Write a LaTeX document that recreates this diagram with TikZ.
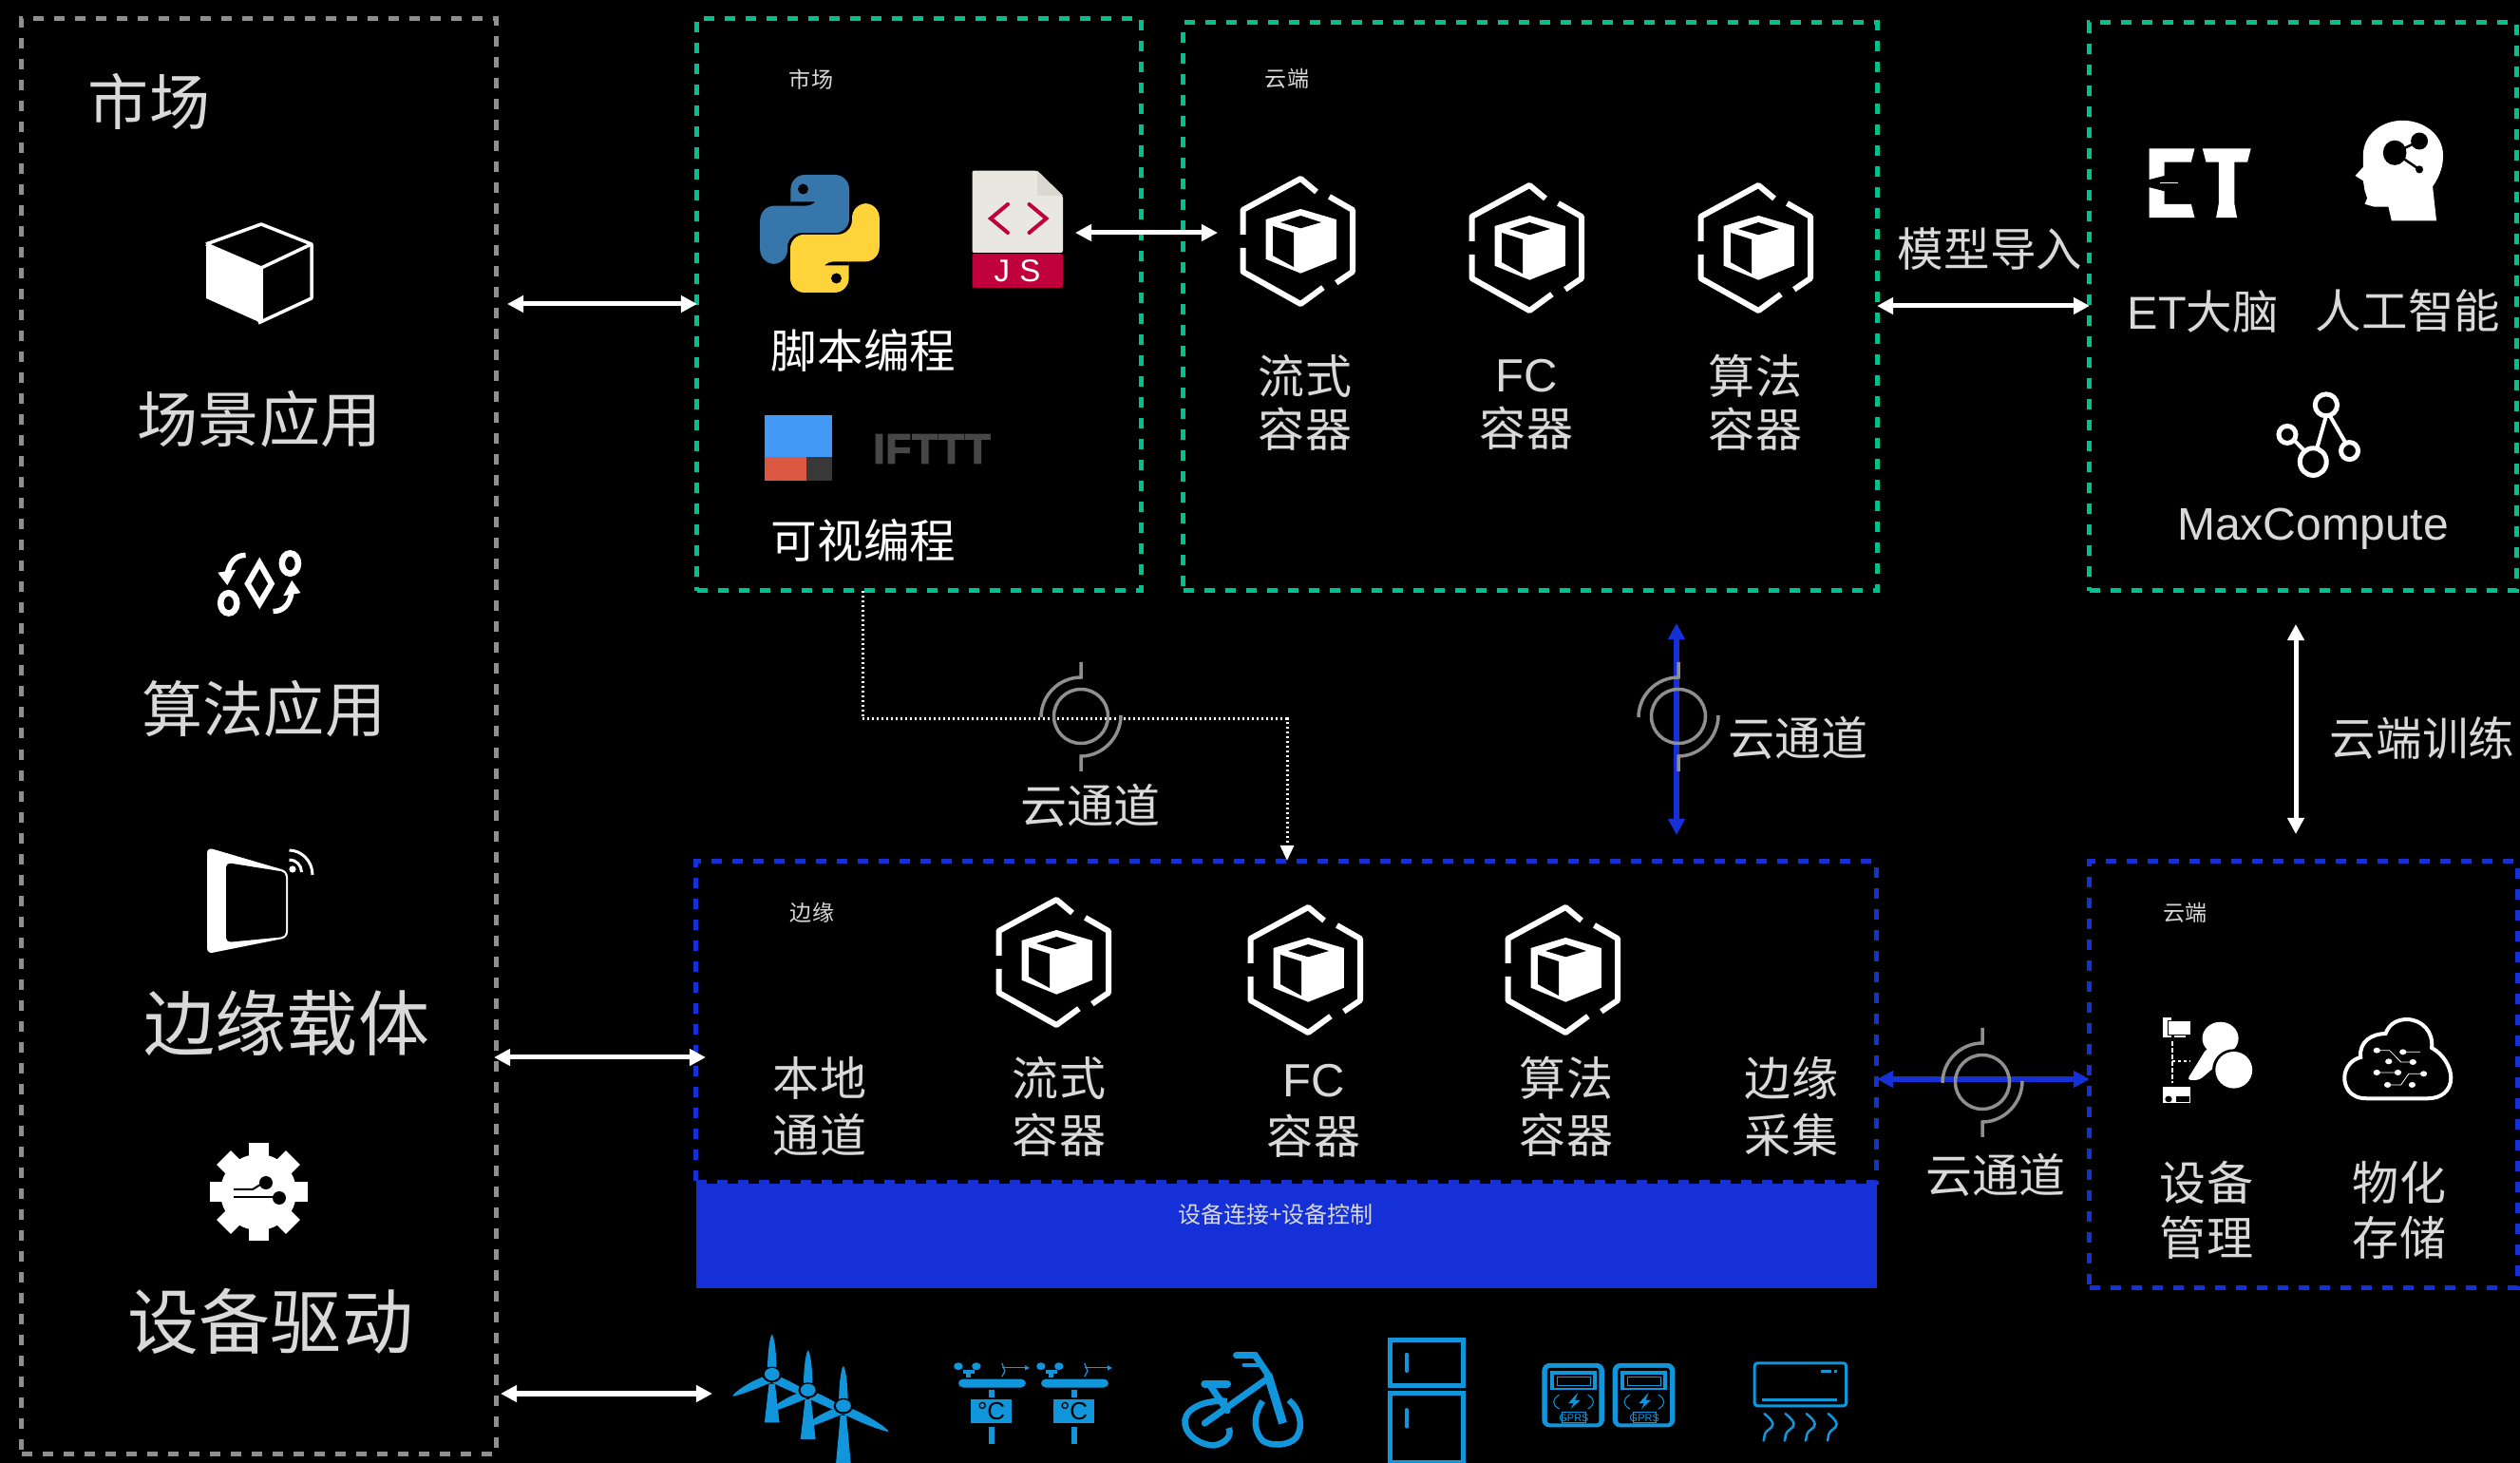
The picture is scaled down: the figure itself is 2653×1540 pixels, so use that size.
\documentclass[tikz,border=0pt]{standalone}
\usepackage{fontspec}
\usetikzlibrary{arrows.meta}
\newfontfamily\cjk{Noto Sans CJK SC}
\newfontfamily\lat{Liberation Sans}
\newfontfamily\heavy[FakeBold=3,LetterSpace=2]{Liberation Sans Bold}
\newcommand{\px}[2][1.22]{\fontsize{\fpeval{#2*0.28453}pt}{\fpeval{#2*#1*0.28453}pt}\selectfont}
\definecolor{boxgray}{HTML}{8F8F8F}
\definecolor{boxgreen}{HTML}{00C08B}
\definecolor{boxblue}{HTML}{1530D6}
\definecolor{txt}{HTML}{D9D9D9}
\definecolor{devblue}{HTML}{1296DB}
\definecolor{pyblue}{HTML}{3776AB}
\definecolor{pyyellow}{HTML}{FFD43B}
\definecolor{jsred}{HTML}{C0003C}
\tikzset{
  dashbox/.style={rectangle,draw,inner sep=0pt,line width=.05cm,dash pattern=on .11cm off .11cm},
  graybox/.style={dashbox,draw=boxgray},
  greenbox/.style={dashbox,draw=boxgreen},
  bluebox/.style={dashbox,draw=boxblue},
  lab/.style={text=txt,inner sep=0pt,align=center,font={\cjk\px{48}}},
  biwhite/.style={white,line width=.05cm,{Triangle[length=.17cm,width=.17cm]}-{Triangle[length=.17cm,width=.17cm]}},
  biblue/.style={boxblue,line width=.055cm,{Triangle[length=.17cm,width=.17cm]}-{Triangle[length=.17cm,width=.17cm]}},
  dotline/.style={white,line width=.03cm,dash pattern=on .02cm off .03cm,-{Triangle[length=.16cm,width=.14cm]}},
  ring/.style={boxgray,line width=.035cm},
  z1/.style={shift={(0,0)},x=.003571cm,y=-.005102cm},
  z2/.style={shift={(0,800)},x=.004847cm,y=-.004719cm},
  z3/.style={shift={(720,0)},x=.003827cm,y=-.004082cm},
  z4/.style={shift={(2180,0)},x=.003333cm,y=-.004082cm},
  z5/.style={shift={(2020,900)},x=.004037cm,y=-.003333cm},
  z6/.style={shift={(740,1370)},x=.007905cm,y=-.003333cm},
}
\newcommand{\hexicon}[2]{%
\begin{scope}[shift={(#1,#2)}]
 \draw[white,line width=.06cm,line join=round] (20,-52) -- (3.3,-66) -- (-57.5,-33) -- (-57.5,-7);
 \draw[white,line width=.06cm,line join=round] (-57.5,7) -- (-57.5,32) -- (3.3,66) -- (26.9,48.7);
 \draw[white,line width=.06cm,line join=round] (33.5,-47) -- (58,-33) -- (58,32) -- (40.8,43.7);
 \fill[white] (3.3,-34) -- (40.8,-23) -- (40.8,18.7) -- (3.3,33.7) -- (-33.5,18.7) -- (-33.5,-23) -- cycle;
 \fill[black] (3.3,-27) -- (25,-20) -- (3.3,-13.7) -- (-18,-20) -- cycle;
 \fill[black] (-26,-16) -- (-4,-9) -- (-4,27) -- (-26,15) -- cycle;
\end{scope}}
\newcommand{\spiral}[2]{%
\begin{scope}[shift={(#1,#2)}]
 \draw[ring] (0,0) circle (28.5);
 \draw[ring] (-42,1) .. controls (-42,-22) and (-23,-41) .. (0,-41) -- (0,-57);
 \draw[ring] (42,-1) .. controls (42,22) and (23,42) .. (0,42) -- (0,58);
\end{scope}}
\newcommand{\turbine}[3]{%
 \fill[devblue] (#1-4,#2+30) -- (#1+4,#2+30) -- (#1+10,#3) -- (#1-10,#3) -- cycle;
 \fill[devblue] (#1-6,#2-10) .. controls (#1-6,#2-80) and (#1-2,#2-125) .. (#1,#2-125) .. controls (#1+2,#2-125) and (#1+6,#2-80) .. (#1+6,#2-10) -- cycle;
 \fill[devblue] (#1-5,#2+3) .. controls (#1-30,#2+20) and (#1-55,#2+65) .. (#1-52,#2+70) .. controls (#1-40,#2+65) and (#1-15,#2+40) .. (#1+3,#2+22) -- cycle;
 \fill[devblue] (#1+5,#2+3) .. controls (#1+30,#2+25) and (#1+62,#2+75) .. (#1+60,#2+82) .. controls (#1+45,#2+75) and (#1+15,#2+45) .. (#1-3,#2+22) -- cycle;
 \fill[black] (#1,#2+1) ellipse [x radius=13,y radius=25];
 \fill[devblue] (#1,#2) ellipse [x radius=10,y radius=20];
}
\begin{document}
\begin{tikzpicture}[x=.01cm,y=-.01cm]
\useasboundingbox (0,0) rectangle (2653,1540);
\fill[black] (0,0) rectangle (2653,1540);
\clip (0,0) rectangle (2653,1540);

% ---- boxes
\node[graybox,minimum width=4.99cm,minimum height=15.11cm] (market) at (272.5,775) {};
\node[greenbox,minimum width=4.67cm,minimum height=6.02cm] (script) at (967.5,320.6) {};
\node[greenbox,minimum width=7.30cm,minimum height=5.98cm] (cloudc) at (1611,322.8) {};
\node[greenbox,minimum width=4.49cm,minimum height=5.98cm] (brain) at (2424.5,322.8) {};
\node[fill=boxblue,inner sep=0pt,minimum width=12.43cm,minimum height=1.10cm] (bus) at (1354.5,1301) {};
\node[bluebox,minimum width=12.42cm,minimum height=3.37cm] (edge) at (1354,1075.5) {};
\node[bluebox,minimum width=4.50cm,minimum height=4.48cm] (cloudm) at (2425,1131) {};

% ---- market texts and icons
\node[lab,font={\cjk\px{64}}] (t1) at (157,107) {市场};
\node[lab,font={\cjk\px{64}}] (t2) at (273,441) {场景应用};
\node[lab,font={\cjk\px{64}}] (t3) at (278,746) {算法应用};
\node[lab,font={\cjk\px{75}}] (t4) at (302,1077) {边缘载体};
\node[lab,font={\cjk\px{75}}] (t5) at (285,1391) {设备驱动};
% cube
\fill[white] (217,257) -- (275,282) -- (275,340) -- (217,314) -- cycle;
\draw[white,line width=.035cm,line join=round] (217,257) -- (275,236) -- (328,257) -- (328,314) -- (272,340);
\draw[white,line width=.035cm] (217,257) -- (275,282) -- (328,257) (275,282) -- (275,340);
% algorithm icon
\begin{scope}[z1]
 \draw[white,line width=.06cm] (765,1162) -- (800,1205) -- (765,1246) -- (730,1205) -- cycle;
 \draw[white,line width=.065cm] (674,1245) ellipse [x radius=24,y radius=21];
 \draw[white,line width=.065cm] (855,1163) ellipse [x radius=24,y radius=21];
 \draw[white,line width=.055cm] (724,1146) .. controls (695,1146) and (675,1160) .. (668,1190);
 \fill[white] (642,1182) -- (695,1176) -- (670,1208) -- cycle;
 \draw[white,line width=.055cm] (805,1262) .. controls (835,1262) and (855,1248) .. (860,1220);
 \fill[white] (886,1224) -- (835,1230) -- (860,1198) -- cycle;
\end{scope}
% tablet
\fill[white,rounded corners=.06cm] (218,892) -- (303,917) -- (303,987) -- (218,1004) -- cycle;
\fill[black,rounded corners=.05cm] (238,908) -- (301,918) -- (301,986) -- (238,992) -- cycle;
\fill[white] (308,915) circle (3.6);
\draw[white,line width=.03cm] (304.5,905) .. controls (311.7,905) and (317.5,910.8) .. (317.5,918);
\draw[white,line width=.03cm] (304.5,895) .. controls (317,895) and (329,906) .. (329,921);
% gear
\begin{scope}[shift={(272,1255)}]
 \fill[white] (0,0) circle (40);
 \foreach \a in {0,45,...,315}{\fill[white,rotate=\a] (-10.5,-51.5) rectangle (10.5,-30);}
 \draw[black,line width=.02cm] (-26,-3) -- (-6,-3) -- (2,-8);
 \draw[black,line width=.02cm] (-26,5) -- (16,5);
 \fill[black] (8,-10) circle (7);
 \fill[black] (22,6) circle (7);
\end{scope}

% ---- scripting box
\node[text=txt,inner sep=0pt,font={\cjk\px{23}}] (t6) at (854,84) {市场};
\node[text=white,inner sep=0pt,font={\cjk\px{48.5}}] (t7) at (909,369) {脚本编程};
\node[text=white,inner sep=0pt,font={\cjk\px{48.5}}] (t8) at (909,569) {可视编程};
% python
\begin{scope}[shift={(863,246)}]
 \fill[pyblue,rounded corners=.15cm] (-30.6,-28) -- (-30.6,-62) -- (31,-62) -- (31,-0.8) -- (-34,-0.8) -- (-34,31.8) -- (-62.8,31.8) -- (-62.8,-29.4) -- (0,-29.4) [sharp corners] -- (0,-33.5) -- (-30.6,-33.5) -- cycle;
 \fill[black] (-17.5,-47) circle (5.5);
 \fill[pyyellow,rounded corners=.15cm] (30.6,28) -- (30.6,62) -- (-31,62) -- (-31,0.8) -- (34,0.8) -- (34,-31.8) -- (62.8,-31.8) -- (62.8,29.4) -- (0,29.4) [sharp corners] -- (0,33.5) -- (30.6,33.5) -- cycle;
 \fill[black] (17.5,47) circle (5.5);
\end{scope}
% js file
\fill[rounded corners=.02cm,fill={rgb,255:red,232;green,232;blue,224}] (1023.5,179.6) -- (1092,179.6) -- (1119,206) -- (1119,266) -- (1023.5,266) -- cycle;
\fill[fill={rgb,255:red,217;green,217;blue,207}] (1092,179.6) -- (1119,206) -- (1092,206) -- cycle;
\fill[jsred,rounded corners=.02cm] (1023.5,267) rectangle (1119,303);
\draw[jsred,line width=.04cm,line cap=round] (1061,215) -- (1043,230) -- (1061,245);
\draw[jsred,line width=.04cm,line cap=round] (1083.5,215) -- (1101.5,230) -- (1083.5,245);
\node[text=white,inner sep=0pt,font={\lat\px{33}}] (js) at (1071,285) {J\hspace{.1cm}S};
% visual icon
\fill[fill={rgb,255:red,66;green,154;blue,246}] (805,437) rectangle (876,481);
\fill[fill={rgb,255:red,220;green,88;blue,65}] (805,481) rectangle (849,506);
\fill[fill={rgb,255:red,56;green,56;blue,56}] (849,481) rectangle (876,506);
\node[text={rgb,255:red,71;green,71;blue,71},inner sep=0pt,font={\heavy\px{44}}] (ifttt) at (981,472.5) {IFTTT};

% ---- cloud containers
\node[text=txt,inner sep=0pt,font={\cjk\px{23}}] (t9) at (1355,83) {云端};
\hexicon{1366}{254}
\hexicon{1607}{261}
\hexicon{1848}{261}
\node[lab,font={\cjk\px[1.15]{49}}] (t10) at (1374,424) {流式\\容器};
\node[lab,font={\cjk\px[1.15]{49}}] (t11) at (1607,426) {{\lat FC}\\容器};
\node[lab,font={\cjk\px[1.15]{49}}] (t12) at (1848,424) {算法\\容器};
\node[lab,font={\cjk\px{48.5}}] (t13) at (2095,262) {模型导入};

% ---- brain box
\begin{scope}[z4]
 \fill[white] (248,382) -- (392,382) -- (381,417) -- (296,417) -- (296,452) -- (248,462) -- cycle;
 \fill[white] (248,482) -- (296,492) -- (296,525) -- (381,525) -- (392,560) -- (248,560) -- cycle;
 \draw[white,line width=.012cm] (282,470) -- (340,470);
 \fill[white] (417,382) -- (570,382) -- (559,417) -- (518,417) -- (518,525) -- (526,560) -- (460,560) -- (468,525) -- (468,417) -- (428,417) -- cycle;
 % head
 \fill[white] (1015,568) -- (1157,568) -- (1145,480) .. controls (1170,450) and (1178,425) .. (1178,400) .. controls (1178,345) and (1115,310) .. (1050,310) .. controls (985,310) and (925,345) .. (925,400) -- (925,430) -- (900,452) -- (925,465) -- (930,490) -- (938,510) -- (930,525) -- (960,532) -- (1005,532) -- cycle;
 \draw[black,line width=.025cm] (1025,393) -- (1103,363) (1025,393) -- (1103,436);
 \fill[black] (1025,393) ellipse [x radius=37,y radius=32];
 \fill[black] (1103,363) ellipse [x radius=27,y radius=22];
 \fill[black] (1103,436) ellipse [x radius=12,y radius=10];
 % network
 \draw[white,line width=.04cm] (808,1070) -- (780,1150) (820,1070) -- (870,1140) (710,1135) -- (740,1160);
 \draw[white,line width=.05cm] (808,1042) ellipse [x radius=35,y radius=28];
 \draw[white,line width=.05cm] (685,1118) ellipse [x radius=27,y radius=22];
 \draw[white,line width=.05cm] (767,1188) ellipse [x radius=42,y radius=35];
 \draw[white,line width=.05cm] (882,1160) ellipse [x radius=27,y radius=22];
\end{scope}
\node[lab,font={\cjk\px{48.5}}] (t14) at (2319.5,328) {{\lat ET}大脑};
\node[lab,font={\cjk\px{48.5}}] (t15) at (2535,327) {人工智能};
\node[text=txt,inner sep=0pt,font={\lat\px{48}}] (t16) at (2435,557) {MaxCompute};
\node[lab,font={\cjk\px{48.5}}] (t17) at (2550,777) {云端训练};

% ---- channels
\coordinate (dota) at (908,622);
\coordinate (dotb) at (908,757);
\coordinate (dotc) at (1355,757);
\coordinate (dotd) at (1355,906);
\draw[dotline] (dota) -- (dotb) -- (dotc) -- (dotd);
\spiral{1138}{754}
\node[lab,font={\cjk\px{49}}] (t18) at (1148,848) {云通道};
\coordinate (vba) at (1765,656);
\coordinate (vbb) at (1765,879);
\draw[biblue] (vba) -- (vbb);
\spiral{1767}{754}
\node[lab,font={\cjk\px{49}}] (t19) at (1893,777) {云通道};
\coordinate (hba) at (1976,1136);
\coordinate (hbb) at (2200,1136);
\draw[biblue] (hba) -- (hbb);
\spiral{2087}{1139}
\node[lab,font={\cjk\px{49}}] (t20) at (2101,1237) {云通道};

% ---- edge box
\node[text=txt,inner sep=0pt,font={\cjk\px{23}}] (t21) at (855,961) {边缘};
\hexicon{1109}{1013}
\hexicon{1374}{1021}
\hexicon{1645}{1021}
\node[lab,font={\cjk\px[1.22]{49}}] (t22) at (863,1165) {本地\\通道};
\node[lab,font={\cjk\px[1.22]{49}}] (t23) at (1115,1165) {流式\\容器};
\node[lab,font={\cjk\px[1.22]{49}}] (t24) at (1383,1169) {{\lat FC}\\容器};
\node[lab,font={\cjk\px[1.22]{49}}] (t25) at (1649,1165) {算法\\容器};
\node[lab,font={\cjk\px[1.22]{49}}] (t26) at (1886,1165) {边缘\\采集};
\node[text=txt,inner sep=0pt,font={\cjk\px{24}}] (t27) at (1343,1278) {设备连接+设备控制};

% ---- cloud management box
\node[text=txt,inner sep=0pt,font={\cjk\px{23}}] (t28) at (2300.6,960.6) {云端};
\begin{scope}[z5]
 \fill[white] (635,513) rectangle (658,577);
 \fill[black] (648,524) rectangle (712,570);
 \fill[white] (650,527) rectangle (708,567);
 \fill[white] (665,572) rectangle (695,577);
 \draw[white,line width=.02cm,dash pattern=on .045cm off .025cm] (659,590) -- (659,722);
 \draw[white,line width=.02cm,dash pattern=on .035cm off .025cm] (659,652) -- (708,652);
 \fill[white] (636,733) rectangle (708,785);
 \fill[black] (650,772) ellipse [x radius=9,y radius=10];
 \fill[black] (670,764) rectangle (704,780);
 \fill[white] (785,580) ellipse [x radius=47,y radius=52];
 \fill[white,rounded corners=.04cm] (750,610) -- (800,640) -- (730,712) -- (698,712) -- cycle;
 \fill[black] (820,680) ellipse [x radius=56,y radius=66];
 \fill[white] (820,680) ellipse [x radius=48,y radius=58];
 % cloud
 \draw[white,line width=.04cm] (1165,770) .. controls (1120,770) and (1108,730) .. (1108,705) .. controls (1108,670) and (1130,645) .. (1150,640) .. controls (1145,590) and (1180,565) .. (1215,565) .. controls (1225,530) and (1250,520) .. (1270,520) .. controls (1310,520) and (1340,560) .. (1335,610) .. controls (1365,630) and (1385,670) .. (1385,705) .. controls (1385,745) and (1360,770) .. (1325,770) -- cycle;
 \draw[white,line width=.008cm] (1192,618) -- (1225,618) -- (1255,655) -- (1286,655) (1260,623) -- (1305,623) (1192,688) -- (1247,688) (1220,727) -- (1255,727) -- (1275,692) -- (1314,692);
 \foreach \p in {(1192,618),(1260,623),(1223,653),(1286,655),(1192,688),(1247,688),(1314,692),(1220,727),(1284,727)}
   {\fill[white] \p ellipse [x radius=9,y radius=9];}
\end{scope}
\node[lab,font={\cjk\px[1.17]{49}}] (t29) at (2323,1274) {设备\\管理};
\node[lab,font={\cjk\px[1.17]{49}}] (t30) at (2526,1274) {物化\\存储};

% ---- devices
\begin{scope}[z6]
 \turbine{92}{230}{383}
 \turbine{140}{280}{435}
 \turbine{187}{330}{515}
 \foreach \s in {0,110}{
  \begin{scope}[xshift=\s*.007905cm]
  \fill[devblue,rounded corners=.05cm] (340,245) rectangle (430,272);
  \fill[devblue] (380,280) rectangle (388,302);
  \fill[devblue] (356,308) rectangle (411,385);
  \fill[devblue] (380,398) rectangle (388,450);
  \fill[devblue] (350,220) rectangle (356,240);
  \fill[devblue] (346,215) rectangle (362,228);
  \fill[devblue] (340,205) ellipse [x radius=6,y radius=12];
  \fill[devblue] (364,205) ellipse [x radius=6,y radius=12];
  \draw[devblue,line width=.012cm,-{Triangle[length=.05cm,width=.05cm]}] (398,210) -- (435,210);
  \draw[devblue,line width=.012cm] (398,195) -- (402,220) -- (398,238);
  \end{scope}
 }
 \node[text=black,inner sep=0pt,font={\lat\px{26}}] (c1) at (384,347) {°C};
 \node[text=black,inner sep=0pt,font={\lat\px{26}}] (c2) at (494,347) {°C};
 % bike
 \draw[devblue,line width=.07cm,line cap=round] (668,385) -- (748,250);
 \draw[devblue,line width=.07cm,line cap=round] (675,265) -- (698,345);
 \draw[devblue,line width=.08cm,line cap=round] (668,260) -- (698,260);
 \draw[devblue,line width=.07cm,line cap=round] (710,170) -- (735,170) -- (752,230);
 \draw[devblue,line width=.04cm,line cap=round] (720,200) -- (740,200);
 \draw[devblue,line width=.09cm] (752,230) -- (772,385);
 \draw[devblue,line width=.065cm] (698,315) .. controls (660,310) and (638,350) .. (642,390) .. controls (645,430) and (665,455) .. (680,455) .. controls (695,450) and (705,425) .. (700,400);
 \draw[devblue,line width=.065cm] (745,315) .. controls (735,350) and (730,400) .. (745,440) .. controls (755,458) and (780,458) .. (790,430) .. controls (800,395) and (795,340) .. (780,312);
 % fridge
 \draw[devblue,line width=.05cm] (915,122) rectangle (1012,267);
 \draw[devblue,line width=.05cm] (915,290) rectangle (1012,510);
 \draw[devblue,line width=.035cm,line cap=round] (937,167) -- (937,220);
 \draw[devblue,line width=.035cm,line cap=round] (937,342) -- (937,396);
 % gps meters
 \foreach \s/\m in {0/g1,94/g2}{
  \begin{scope}[xshift=\s*.007905cm]
  \fill[devblue,rounded corners=.08cm] (1117,195) rectangle (1200,398);
  \fill[black,rounded corners=.03cm] (1124,210) rectangle (1193,386);
  \fill[devblue] (1128,220) rectangle (1190,278);
  \fill[black] (1133,232) rectangle (1185,272);
  \draw[devblue,line width=.008cm] (1137,238) rectangle (1181,266);
  \fill[devblue] (1165,288) -- (1152,322) -- (1159,322) -- (1155,340) -- (1168,312) -- (1161,312) -- cycle;
  \draw[devblue,line width=.01cm] (1140,295) .. controls (1130,310) and (1130,325) .. (1140,340);
  \draw[devblue,line width=.01cm] (1178,295) .. controls (1188,310) and (1188,325) .. (1178,340);
  \draw[devblue,line width=.01cm] (1144,350) rectangle (1175,384);
  \node[text=devblue,inner sep=0pt,font={\lat\px{11}}] (\m) at (1159.5,368) {GPRS};
  \end{scope}
 }
 % air conditioner
 \draw[devblue,line width=.03cm,rounded corners=.03cm] (1400,195) rectangle (1522,330);
 \fill[devblue] (1410,305) rectangle (1510,316);
 \fill[devblue] (1488,215) rectangle (1502,225);
 \fill[devblue] (1506,215) rectangle (1510,225);
 \foreach \s in {1417,1445,1473,1502}{
  \draw[devblue,line width=.025cm,line cap=round] (\s-4,355) .. controls (\s+12,385) and (\s+8,395) .. (\s+2,405) .. controls (\s-6,418) and (\s-3,430) .. (\s-5,440);
 }
\end{scope}

% ---- white arrows
\coordinate (a1l) at (534,320);  \coordinate (a1r) at (734,320);
\coordinate (a2l) at (520,1113); \coordinate (a2r) at (743,1113);
\coordinate (a3l) at (527,1467); \coordinate (a3r) at (750,1467);
\coordinate (a4l) at (1132,245); \coordinate (a4r) at (1282,245);
\coordinate (a5l) at (1976,322); \coordinate (a5r) at (2200,322);
\coordinate (a6t) at (2417,657); \coordinate (a6b) at (2417,878);
\draw[biwhite] (a1l) -- (a1r);
\draw[biwhite] (a2l) -- (a2r);
\draw[biwhite] (a3l) -- (a3r);
\draw[biwhite] (a4l) -- (a4r);
\draw[biwhite] (a5l) -- (a5r);
\draw[biwhite] (a6t) -- (a6b);
\end{tikzpicture}
\end{document}
